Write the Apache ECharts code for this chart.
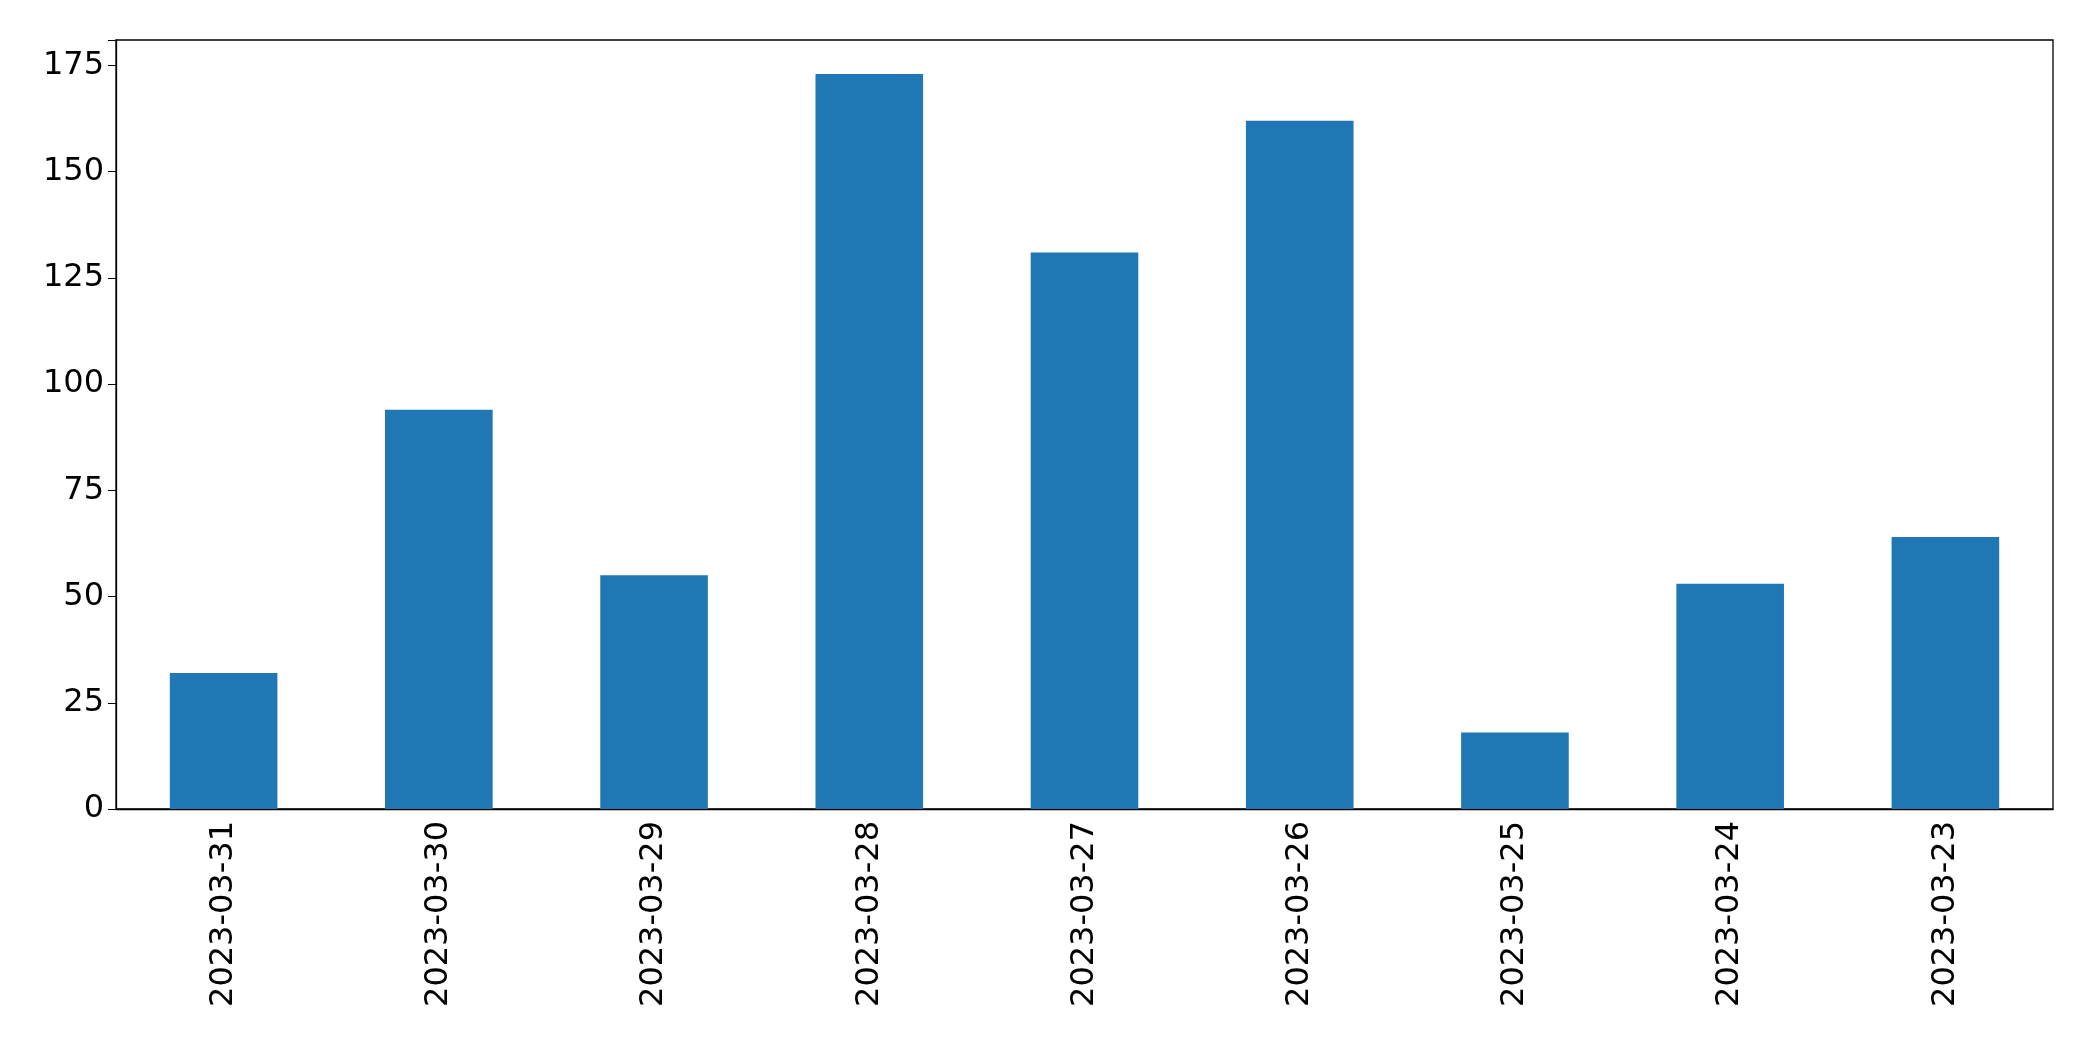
<!DOCTYPE html>
<html><head><meta charset="utf-8">
<script src="https://cdn.jsdelivr.net/npm/echarts@6/dist/echarts.min.js"></script>
<style>html,body{margin:0;padding:0;background:#fff}#c{width:2093px;height:1061px}</style>
</head><body><div id="c"></div>
<script>
const categories = ["2023-03-31","2023-03-30","2023-03-29","2023-03-28","2023-03-27","2023-03-26","2023-03-25","2023-03-24","2023-03-23"];
const values = [32, 94, 55, 173, 131, 162, 18, 53, 64];
const chart = echarts.init(document.getElementById('c'));
chart.setOption({
  animation: false,
  grid: {left: 116, right: 40, top: 40, bottom: 252, show: true, borderColor: '#000', borderWidth: 1.3},
  xAxis: {type: 'category', data: categories,
    axisLine: {lineStyle: {color: '#000', width: 1.3}},
    axisTick: {alignWithLabel: true, length: 8, lineStyle: {color: '#000'}},
    axisLabel: {rotate: 90, color: '#000', fontSize: 32, fontFamily: 'DejaVu Sans', margin: 12, interval: 0}},
  yAxis: {type: 'value', min: 0, max: 181, interval: 25,
    splitLine: {show: false},
    axisLine: {show: true, lineStyle: {color: '#000', width: 1.3}},
    axisTick: {show: true, length: 8, lineStyle: {color: '#000'}},
    axisLabel: {color: '#000', fontSize: 32, fontFamily: 'DejaVu Sans', margin: 12,
      formatter: v => v % 25 === 0 ? v : ''}},
  series: [{type: 'bar', data: values, barWidth: '50%', itemStyle: {color: '#1f77b4'}}]
});
</script></body></html>
